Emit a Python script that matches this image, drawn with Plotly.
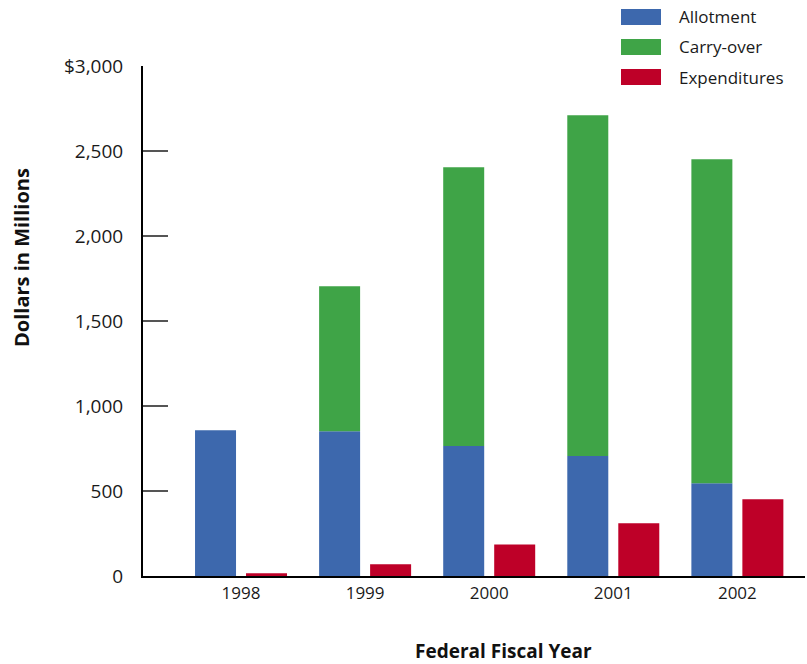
import plotly.graph_objects as go

years = ["1998", "1999", "2000", "2001", "2002"]
allotment = [857, 851, 765, 706, 545]
carry_over = [0, 853, 1639, 2004, 1906]
expenditures = [16, 69, 186, 310, 451]

series_names = ["Allotment", "Carry-over", "Expenditures"]
colors = ["#3D68AD", "#3FA447", "#BE0028"]

y_tickvals = [0, 500, 1000, 1500, 2000, 2500, 3000]
y_ticktext = ["0", "500", "1,000", "1,500", "2,000", "2,500", "$3,000"]

W, H = 807, 664
L, R, T, B = 143, 805, 66, 576
FONT = "Open Sans"
STEP = 124.1  # pixels per category
BAR_W = 41 / STEP


def px_x(p):
    return (p - L) / (R - L)


def px_y(p):
    return (B - p) / (B - T)


fig = go.Figure()
fig.add_trace(go.Bar(x=years, y=allotment, name=series_names[0], width=BAR_W, offset=-46 / STEP,
                     marker=dict(color=colors[0], line=dict(width=0)), showlegend=False))
fig.add_trace(go.Bar(x=years, y=carry_over, base=allotment, name=series_names[1], width=BAR_W,
                     offset=-46 / STEP,
                     marker=dict(color=colors[1], line=dict(width=0)), showlegend=False))
fig.add_trace(go.Bar(x=years, y=expenditures, name=series_names[2], width=BAR_W, offset=5 / STEP,
                     marker=dict(color=colors[2], line=dict(width=0)), showlegend=False))

shapes = []
annotations = []
for i, (name, col) in enumerate(zip(series_names, colors)):
    top = 9 + 30 * i
    shapes.append(dict(type="rect", xref="paper", yref="paper",
                       x0=px_x(621), x1=px_x(661), y0=px_y(top + 16), y1=px_y(top),
                       fillcolor=col, line=dict(width=0)))
    annotations.append(dict(xref="paper", yref="paper", x=px_x(677), y=px_y(top + 8),
                            xanchor="left", yanchor="middle", text=name, showarrow=False,
                            font=dict(family=FONT, size=17, color="#1a1a1a")))

annotations.append(dict(xref="paper", yref="paper", x=px_x(21), y=px_y(258),
                        xanchor="center", yanchor="middle", text="<b>Dollars in Millions</b>",
                        textangle=-90, showarrow=False,
                        font=dict(family=FONT, size=20, color="#111")))
annotations.append(dict(xref="paper", yref="paper", x=px_x(503), y=px_y(651),
                        xanchor="center", yanchor="middle", text="<b>Federal Fiscal Year</b>",
                        showarrow=False, font=dict(family=FONT, size=19, color="#111")))

fig.update_layout(
    width=W, height=H,
    margin=dict(l=L, r=W - R, t=T, b=H - B, pad=0),
    paper_bgcolor="white", plot_bgcolor="white",
    barmode="overlay",
    shapes=shapes, annotations=annotations,
    showlegend=False,
    font=dict(family=FONT, size=17, color="#1a1a1a"),
)
fig.update_xaxes(type="category", range=[-0.79, 4.545], showgrid=False, zeroline=False,
                 showline=True, linecolor="black", linewidth=2,
                 ticks="", ticklabelstandoff=1,
                 tickfont=dict(family=FONT, size=17, color="#1a1a1a"))
fig.update_yaxes(range=[0, 3000], showgrid=False, zeroline=False,
                 showline=True, linecolor="black", linewidth=2,
                 tickvals=y_tickvals, ticktext=y_ticktext,
                 ticks="inside", ticklen=25, tickwidth=2, tickcolor="#555",
                 ticklabelstandoff=14,
                 tickfont=dict(family=FONT, size=19, color="#1a1a1a"))

fig.write_html("out.html", post_script="document.body.style.margin='0';",
               config={"displayModeBar": False})
